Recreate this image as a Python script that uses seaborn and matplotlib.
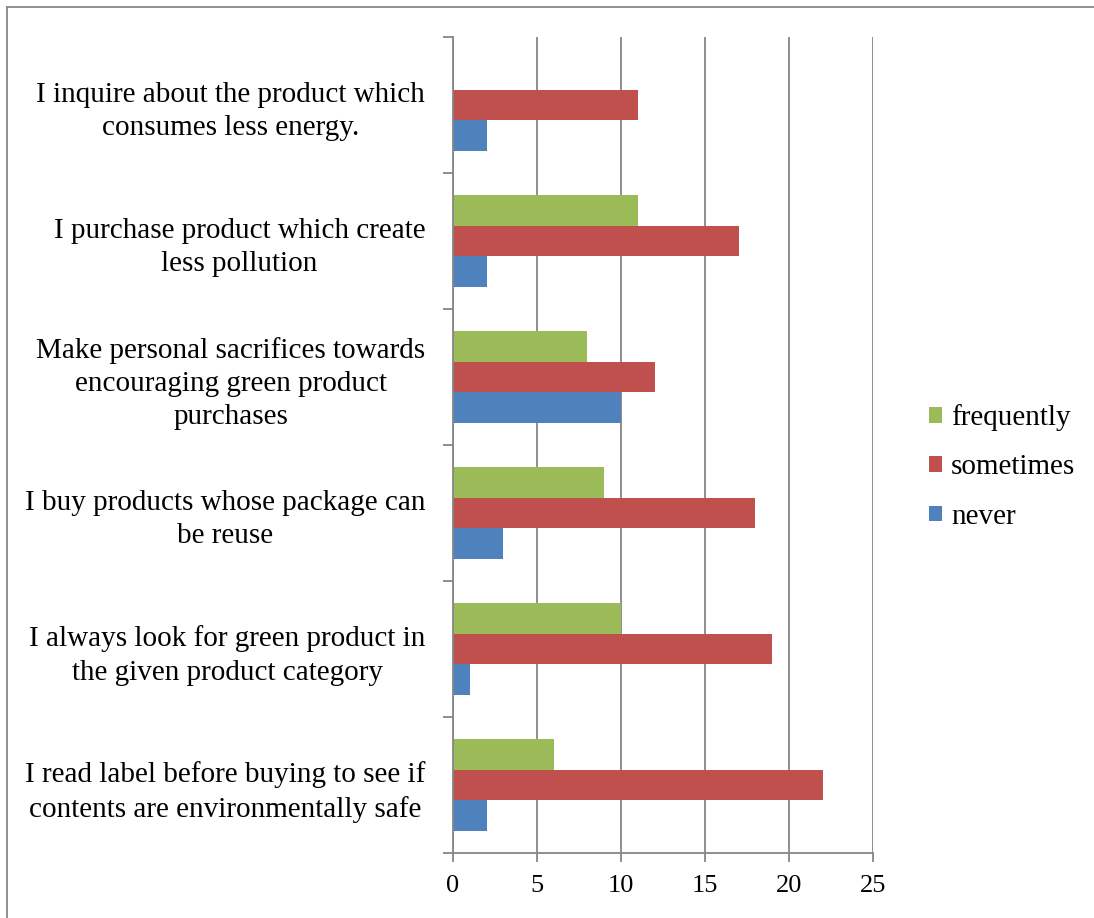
import matplotlib
matplotlib.use("Agg")
import matplotlib.pyplot as plt
from matplotlib.lines import Line2D
from matplotlib.ticker import FixedLocator
import seaborn as sns
import pandas as pd

# Survey statements, listed top to bottom
statements = [
    "I inquire about the product which\nconsumes less energy.",
    "I purchase product which create\nless pollution",
    "Make personal sacrifices towards\nencouraging green product\npurchases",
    "I buy products whose package can\nbe reuse",
    "I always look for green product in\nthe given product category",
    "I read label before buying to see if\ncontents are environmentally safe",
]
responses = ["frequently", "sometimes", "never"]
frequently = [0, 11, 8, 9, 10, 6]
sometimes = [11, 17, 12, 18, 19, 22]
never = [2, 2, 10, 3, 1, 2]
x_ticks = [0, 5, 10, 15, 20, 25]

colors = {"frequently": "#9BBB59", "sometimes": "#C0504D", "never": "#4F81BD"}

df = pd.DataFrame({
    "statement": statements * 3,
    "response": [r for r in responses for _ in statements],
    "count": frequently + sometimes + never,
})

plt.rcParams["font.family"] = ["Liberation Serif", "DejaVu Serif"]
grid_color = "#868686"

fig = plt.figure(figsize=(10.94, 9.18), dpi=100)
ax = fig.add_axes([453 / 1094, 1 - 853 / 918, 420 / 1094, 816 / 918])

sns.barplot(data=df, y="statement", x="count", hue="response",
            hue_order=responses, order=statements, orient="h",
            palette=colors, width=0.67, saturation=1, edgecolor="none",
            linewidth=0, ax=ax)

ax.set_xlim(0, 25)
ax.set_ylim(len(statements) - 0.5, -0.5)
ax.set_xticks(x_ticks)
ax.set_xticklabels([str(t) for t in x_ticks])
ax.set_xlabel("")
ax.set_ylabel("")

ax.set_axisbelow(True)
ax.xaxis.grid(True, color=grid_color, linewidth=1.3)
ax.yaxis.grid(False)

for side in ("top", "right"):
    ax.spines[side].set_visible(False)
for side in ("left", "bottom"):
    ax.spines[side].set_color(grid_color)
    ax.spines[side].set_linewidth(1.3)

# category labels without ticks; boundary ticks between categories
ax.tick_params(axis="y", which="major", length=0, pad=20, labelsize=21)
ax.yaxis.set_minor_locator(FixedLocator([i - 0.5 for i in range(len(statements) + 1)]))
ax.tick_params(axis="y", which="minor", length=7, width=1.3, color=grid_color, direction="out")
ax.tick_params(axis="x", which="major", length=6.5, width=1.3, color=grid_color,
               pad=9, labelsize=19)
for lbl in ax.get_yticklabels():
    lbl.set_multialignment("center")
    lbl.set_linespacing(1.36)

leg = ax.legend(loc="center left", bbox_to_anchor=(929 / 1094, 1 - 467 / 918),
                bbox_transform=fig.transFigure, frameon=False, fontsize=21,
                handlelength=0.45, handleheight=0.45, handletextpad=0.3,
                labelspacing=0.8, borderpad=0, borderaxespad=0)

# outer frame along top and left edges
fx = 6.7 / 1094
fy = 1 - 6.7 / 918
fig.add_artist(Line2D([fx, fx], [0, fy], transform=fig.transFigure,
                      color="#888888", linewidth=1.3))
fig.add_artist(Line2D([fx, 1], [fy, fy], transform=fig.transFigure,
                      color="#888888", linewidth=1.3))

fig.savefig("out.png", dpi=100, facecolor="white")
